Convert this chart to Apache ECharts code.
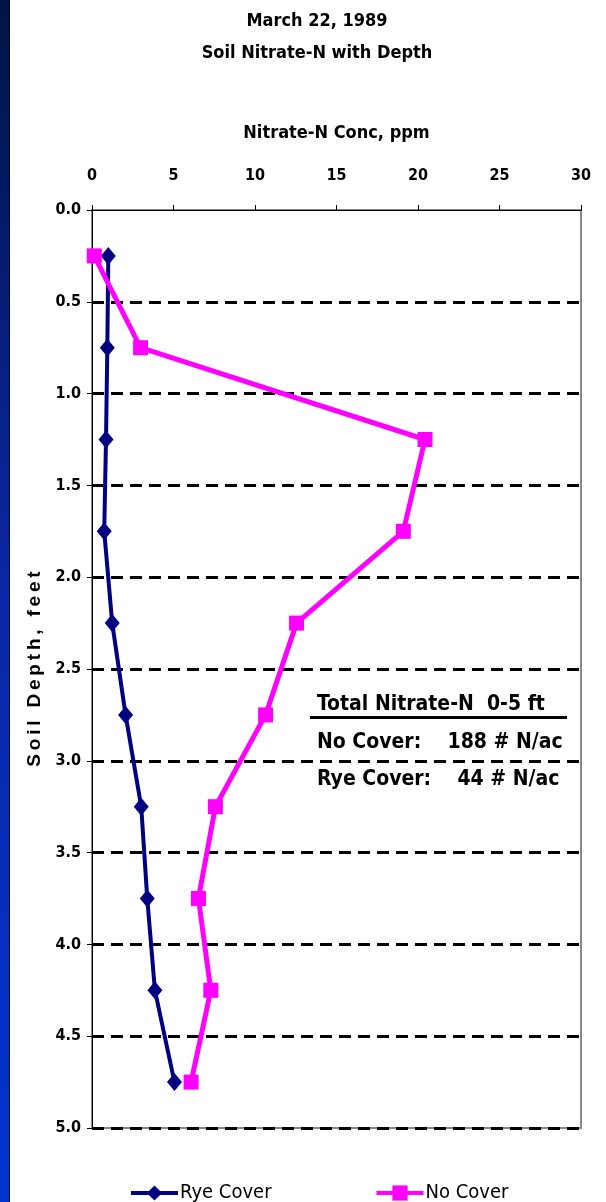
<!DOCTYPE html>
<html>
<head>
<meta charset="utf-8">
<style>html,body{margin:0;padding:0;background:#fff;}#c{width:606px;height:1202px;}</style>
<script src="https://cdn.jsdelivr.net/npm/echarts@6/dist/echarts.min.js"></script>
</head>
<body>
<div id="c"></div>
<script>
var depths = [0.25, 0.75, 1.25, 1.75, 2.25, 2.75, 3.25, 3.75, 4.25, 4.75];
var ryeCover = [1.0, 0.94, 0.86, 0.75, 1.24, 2.06, 3.02, 3.39, 3.86, 5.06];
var noCover = [0.14, 2.98, 20.43, 19.1, 12.55, 10.65, 7.57, 6.53, 7.29, 6.08];
var seriesNames = ['Rye Cover', 'No Cover'];
var titleLines = ['March 22, 1989', 'Soil Nitrate-N with Depth'];
var xAxisName = 'Nitrate-N Conc, ppm';
var yAxisName = 'S\u2009o\u2009i\u2009l\u2009 \u2009D\u2009e\u2009p\u2009t\u2009h\u2009,\u2009 \u2009f\u2009e\u2009e\u2009t';
var noteLines = ['Total Nitrate-N  0-5 ft', 'No Cover:    188 # N/ac', 'Rye Cover:    44 # N/ac'];

var NARROW = '"Liberation Sans Narrow", "Arial Narrow", "DejaVu Sans Condensed", sans-serif';
var chart = echarts.init(document.getElementById('c'), null, {renderer: 'canvas'});

function pairs(vals) { return vals.map(function (v, i) { return [v, depths[i]]; }); }

chart.setOption({
  backgroundColor: '#ffffff',
  animation: false,
  title: {
    text: titleLines.join('\n'),
    left: 312, top: 0, textAlign: 'center',
    textStyle: {fontFamily: NARROW, fontWeight: 'bold', fontSize: 18, lineHeight: 32, color: '#000'}
  },
  grid: {left: 92, top: 210, width: 489, height: 918, show: true, borderColor: '#888', borderWidth: 2, backgroundColor: 'transparent'},
  xAxis: {
    type: 'value', position: 'top', min: 0, max: 30, interval: 5,
    name: xAxisName, nameLocation: 'middle', nameGap: 68,
    nameTextStyle: {fontFamily: NARROW, fontWeight: 'bold', fontSize: 18, color: '#000'},
    axisLine: {show: true, onZero: false, lineStyle: {color: '#000', width: 1}},
    axisTick: {show: true, inside: false, length: 5, lineStyle: {color: '#000'}},
    axisLabel: {margin: 26, fontFamily: NARROW, fontWeight: 'bold', fontSize: 16, color: '#000'},
    splitLine: {show: false}
  },
  yAxis: {
    type: 'value', inverse: true, min: 0, max: 5, interval: 0.5,
    name: yAxisName, nameLocation: 'middle', nameGap: 45, nameRotate: 90,
    nameTextStyle: {fontFamily: '"Liberation Sans", Arial, sans-serif', fontWeight: 'bold', fontSize: 19, color: '#000'},
    axisLine: {show: true, onZero: false, lineStyle: {color: '#000', width: 1}},
    axisTick: {show: true, inside: false, length: 5, lineStyle: {color: '#000'}},
    axisLabel: {margin: 11, fontFamily: NARROW, fontWeight: 'bold', fontSize: 16, color: '#000',
      formatter: function (v) { return v.toFixed(1); }},
    splitLine: {show: true, showMinLine: false, showMaxLine: true,
      lineStyle: {color: '#000', width: 3, type: [12, 7]}}
  },
  legend: {
    left: 124, top: 1178, itemGap: 103, itemWidth: 47, itemHeight: 19,
    lineStyle: {width: 4},
    textStyle: {fontFamily: NARROW, fontSize: 20, color: '#000', padding: [0, 0, 0, -3]},
    data: seriesNames
  },
  series: [
    {name: seriesNames[0], type: 'line', data: pairs(ryeCover), symbol: 'diamond', symbolSize: [15, 18],
      lineStyle: {color: '#000080', width: 4}, itemStyle: {color: '#000080'}, z: 2},
    {name: seriesNames[1], type: 'line', data: pairs(noCover), symbol: 'rect', symbolSize: 15,
      lineStyle: {color: '#ff00ff', width: 5}, itemStyle: {color: '#ff00ff'}, z: 3}
  ],
  graphic: [
    {type: 'rect', left: 0, top: 0, shape: {width: 9, height: 1202}, silent: true,
      style: {fill: new echarts.graphic.LinearGradient(0, 0, 0, 1, [
        {offset: 0, color: '#001444'}, {offset: 0.5, color: '#0a28a8'}, {offset: 1, color: '#0034d0'}])}},
    {type: 'rect', left: 9, top: 0, shape: {width: 1, height: 1202}, silent: true, style: {fill: '#00082a'}},
    {type: 'text', left: 317, top: 694, silent: true,
      style: {text: noteLines[0], font: 'bold 21px ' + NARROW, fill: '#000'}},
    {type: 'rect', left: 310, top: 716, shape: {width: 257, height: 3}, silent: true, style: {fill: '#000'}},
    {type: 'text', left: 317, top: 732, silent: true,
      style: {text: noteLines[1], font: 'bold 21px ' + NARROW, fill: '#000'}},
    {type: 'text', left: 317, top: 769, silent: true,
      style: {text: noteLines[2], font: 'bold 21px ' + NARROW, fill: '#000'}}
  ]
});
</script>
</body>
</html>
